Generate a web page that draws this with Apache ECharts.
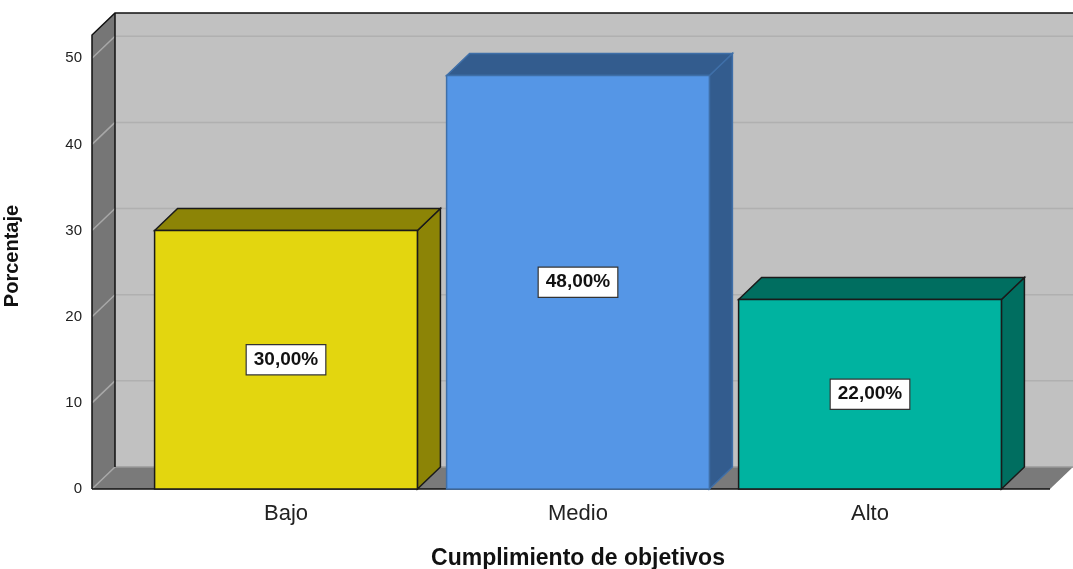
<!DOCTYPE html>
<html>
<head>
<meta charset="utf-8">
<script src="https://cdn.jsdelivr.net/npm/echarts@6/dist/echarts.min.js"></script>
<style>
  html,body{margin:0;padding:0;background:#fff;}
  #chart{width:1073px;height:569px;}
</style>
</head>
<body>
<div id="chart"></div>
<script>
var categories = ['Bajo', 'Medio', 'Alto']
var percents = [30, 48, 22]
var yTicks = [0, 10, 20, 30, 40, 50]
var frontColors = ['#e3d60f', '#5596e6', '#00b3a0']
var sideColors = ['#8c8406', '#335c8e', '#006e60']
var edgeColors = ['#1a1a1a', '#3f6fa8', '#1a1a1a']

var YMAX = 52.7
var DX = 23, DY = -22

var chart = echarts.init(document.getElementById('chart'))

function frameItem(params, api){
  var cs = params.coordSys
  var y0 = api.coord([0, 0])[1]
  var yTop = api.coord([0, YMAX])[1]
  var xl = cs.x - 48
  var xr = cs.x + cs.width + 34
  var far = 1200
  var kids = []
  // back wall
  kids.push({type:'polygon', shape:{points:[[xl+DX,yTop+DY],[far,yTop+DY],[far,y0+DY],[xl+DX,y0+DY]]},
    style:{fill:'#c1c1c1'}})
  // side wall
  kids.push({type:'polygon', shape:{points:[[xl,yTop],[xl+DX,yTop+DY],[xl+DX,y0+DY],[xl,y0]]},
    style:{fill:'#767676'}})
  // floor
  kids.push({type:'polygon', shape:{points:[[xl,y0],[xl+DX,y0+DY],[xr+DX,y0+DY],[xr,y0]]},
    style:{fill:'#7a7a7a'}})
  yTicks.forEach(function(v){
    var y = api.coord([0, v])[1]
    kids.push({type:'line', shape:{x1:xl+DX, y1:y+DY, x2:far, y2:y+DY},
      style:{stroke: v === 0 ? '#9a9a9a' : '#b0b0b0', lineWidth:1.5}})
    kids.push({type:'line', shape:{x1:xl, y1:y, x2:xl+DX, y2:y+DY},
      style:{stroke:'#a8a8a8', lineWidth:1.5}})
  })
  // edges
  var edge = {stroke:'#111', lineWidth:1.5, fill:null}
  kids.push({type:'polyline', shape:{points:[[xl,y0],[xl,yTop],[xl+DX,yTop+DY],[far,yTop+DY]]}, style:edge})
  kids.push({type:'line', shape:{x1:xl+DX, y1:yTop+DY, x2:xl+DX, y2:y0+DY}, style:edge})
  kids.push({type:'line', shape:{x1:xl, y1:y0, x2:xr, y2:y0}, style:edge})
  return {type:'group', children:kids}
}

function barItem(params, api){
  var i = api.value(0)
  var v = api.value(1)
  var base = api.coord([i, 0])
  var top = api.coord([i, v])
  var w = api.size([1, 0])[0] * 0.9
  var x0 = top[0] - w / 2, x1 = top[0] + w / 2
  var yt = top[1], yb = base[1]
  var ec = edgeColors[i]
  var lbl = v.toFixed(2).replace('.', ',') + '%'
  return {type:'group', children:[
    {type:'polygon', shape:{points:[[x1,yt],[x1+DX,yt+DY],[x1+DX,yb+DY],[x1,yb]]},
      style:{fill:sideColors[i], stroke:ec, lineWidth:1.5}},
    {type:'polygon', shape:{points:[[x0,yt],[x0+DX,yt+DY],[x1+DX,yt+DY],[x1,yt]]},
      style:{fill:sideColors[i], stroke:ec, lineWidth:1.5}},
    {type:'rect', shape:{x:x0, y:yt, width:w, height:yb-yt},
      style:{fill:frontColors[i], stroke:ec, lineWidth:1.5}},
    {type:'text', x:top[0], y:(yt+yb)/2, style:{
      text:lbl, align:'center', verticalAlign:'middle',
      font:'bold 19px "Liberation Sans", Arial, sans-serif', fill:'#111',
      backgroundColor:'#fff', borderColor:'#333', borderWidth:1.2, padding:[5,7]}}
  ]}
}

var option = {
  animation:false,
  grid:{left:140, right:57, top:35, bottom:80, outerBoundsMode:'none', containLabel:false},
  xAxis:{
    type:'category',
    data:categories,
    axisLine:{show:false}, axisTick:{show:false},
    axisLabel:{margin:14, fontSize:22, color:'#222', fontFamily:'"Liberation Sans", Arial, sans-serif'},
    name:'Cumplimiento de objetivos',
    nameLocation:'middle', nameGap:58,
    nameTextStyle:{fontSize:23, fontWeight:'bold', color:'#111', fontFamily:'"Liberation Sans", Arial, sans-serif'}
  },
  yAxis:{
    type:'value', min:0, max:YMAX, interval:10,
    axisLine:{show:false}, axisTick:{show:false}, splitLine:{show:false},
    axisLabel:{margin:58, fontSize:15, color:'#222', showMaxLabel:false,
      fontFamily:'"Liberation Sans", Arial, sans-serif'},
    name:'Porcentaje',
    nameLocation:'middle', nameGap:118,
    nameTextStyle:{fontSize:20, fontWeight:'bold', color:'#111', padding:[0,0,0,12],
      fontFamily:'"Liberation Sans", Arial, sans-serif'}
  },
  series:[
    {type:'custom', clip:false, z:1, renderItem:frameItem, data:[[0, 0]], silent:true},
    {type:'custom', clip:false, z:2, renderItem:barItem,
      data:percents.map(function(p, i){ return [i, p] })}
  ]
}
chart.setOption(option)
</script>
</body>
</html>
